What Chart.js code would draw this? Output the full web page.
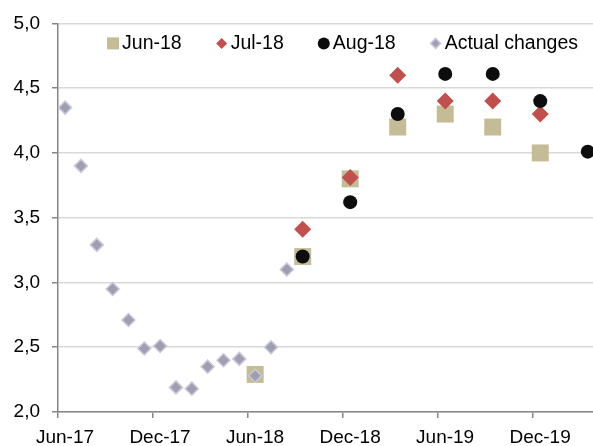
<!DOCTYPE html>
<html>
<head>
<meta charset="utf-8">
<script src="https://cdn.jsdelivr.net/npm/chart.js@4"></script>
<style>
  html, body { margin: 0; padding: 0; background: #fff; }
  #wrap { width: 593px; height: 446px; }
</style>
</head>
<body>
<div id="wrap"><canvas id="chart"></canvas></div>
<script>
// axis tick labels, every six months from Jun-17
const tickLabels = ['Jun-17', 'Dec-17', 'Jun-18', 'Dec-18', 'Jun-19', 'Dec-19'];

// actual monthly changes
const actualMonths = ['Jun-17', 'Jul-17', 'Aug-17', 'Sep-17', 'Oct-17', 'Nov-17', 'Dec-17', 'Jan-18',
  'Feb-18', 'Mar-18', 'Apr-18', 'May-18', 'Jun-18', 'Jul-18', 'Aug-18'];
const actualValues = [4.35, 3.90, 3.29, 2.95, 2.71, 2.49, 2.51, 2.19, 2.18, 2.35, 2.40, 2.41, 2.28, 2.50, 3.10];

// forecast vintages
const jun18Months = ['Jun-18', 'Sep-18', 'Dec-18', 'Mar-19', 'Jun-19', 'Sep-19', 'Dec-19'];
const jun18Values = [2.29, 3.20, 3.80, 4.20, 4.30, 4.20, 4.00];

const jul18Months = ['Sep-18', 'Dec-18', 'Mar-19', 'Jun-19', 'Sep-19', 'Dec-19'];
const jul18Values = [3.41, 3.81, 4.60, 4.40, 4.40, 4.30];

const aug18Months = ['Sep-18', 'Dec-18', 'Mar-19', 'Jun-19', 'Sep-19', 'Dec-19', 'Mar-20'];
const aug18Values = [3.20, 3.62, 4.30, 4.61, 4.61, 4.40, 4.01];

const MONTHS = ['Jan', 'Feb', 'Mar', 'Apr', 'May', 'Jun', 'Jul', 'Aug', 'Sep', 'Oct', 'Nov', 'Dec'];

// months since Jun-17, points sit mid-month
function monthPos(label) {
  const [m, y] = label.split('-');
  return (2000 + Number(y) - 2017) * 12 + MONTHS.indexOf(m) - 5 + 0.45;
}

function toPoints(months, values) {
  return months.map((m, i) => ({ x: monthPos(m), y: values[i] }));
}

const font = { family: '"Liberation Sans", Arial, sans-serif', size: 19 };
const axisGrey = '#868686';

// excel-style legend sitting inside the plot, one row, right side
const insideLegend = {
  id: 'insideLegend',
  afterDatasetsDraw(chart) {
    const { ctx, chartArea } = chart;
    const gap = 34;
    ctx.save();
    ctx.font = `19.5px ${font.family}`;
    ctx.textBaseline = 'middle';
    const items = chart.data.datasets.map(ds => ({ ds, w: 15 + ctx.measureText(ds.label).width }));
    const total = items.reduce((s, it) => s + it.w, 0) + gap * (items.length - 1);
    let x = chartArea.right - 15 - total;
    const y = chartArea.top + 20;
    items.forEach(({ ds, w }) => {
      ctx.fillStyle = ds.backgroundColor;
      ctx.strokeStyle = ds.borderColor || ds.backgroundColor;
      ctx.lineWidth = ds.borderWidth;
      Chart.helpers.drawPoint(ctx, {
        pointStyle: ds.pointStyle,
        radius: ds.legendRadius,
        borderWidth: ds.borderWidth,
      }, x + 6, y);
      ctx.fillStyle = '#000';
      ctx.fillText(ds.label, x + 15, y);
      x += w + gap;
    });
    ctx.restore();
  },
};

new Chart(document.getElementById('chart'), {
  type: 'scatter',
  data: {
    datasets: [
      {
        label: 'Jun-18',
        data: toPoints(jun18Months, jun18Values),
        pointStyle: 'rect',
        pointRadius: 12,
        legendRadius: 8.5,
        backgroundColor: '#c4bc96',
        borderColor: '#c4bc96',
        borderWidth: 0,
        order: 4,
      },
      {
        label: 'Jul-18',
        data: toPoints(jul18Months, jul18Values),
        pointStyle: 'rectRot',
        pointRadius: 8.5,
        legendRadius: 5.5,
        backgroundColor: '#c0504d',
        borderColor: '#c0504d',
        borderWidth: 0,
        order: 3,
      },
      {
        label: 'Aug-18',
        data: toPoints(aug18Months, aug18Values),
        pointStyle: 'circle',
        pointRadius: 7,
        legendRadius: 6,
        backgroundColor: '#0d0d0d',
        borderColor: '#0d0d0d',
        borderWidth: 0,
        order: 2,
      },
      {
        label: 'Actual changes',
        data: toPoints(actualMonths, actualValues),
        pointStyle: 'rectRot',
        pointRadius: 6.5,
        legendRadius: 5,
        backgroundColor: '#a09fae',
        borderColor: '#cbc7de',
        borderWidth: 1.5,
        order: 1,
      },
    ],
  },
  options: {
    responsive: true,
    maintainAspectRatio: false,
    animation: false,
    events: [],
    clip: false,
    layout: { autoPadding: false, padding: { top: 19, right: 0, bottom: 0, left: 0 } },
    plugins: {
      tooltip: { enabled: false },
      legend: { display: false },
    },
    scales: {
      x: {
        type: 'linear',
        min: 0,
        max: 33.78,
        afterBuildTicks: s => { s.ticks = tickLabels.map((_, i) => ({ value: i * 6 })); },
        afterFit: s => { s.height = 34; s.paddingLeft = 0; s.paddingRight = 0; },
        border: { color: axisGrey, width: 1.5 },
        grid: { drawOnChartArea: false, tickColor: axisGrey, tickLength: 6, lineWidth: 1.5 },
        ticks: {
          autoSkip: false,
          maxRotation: 0,
          padding: 8,
          labelOffset: 7,
          color: '#000',
          font,
          callback: (v, i) => tickLabels[i],
        },
      },
      y: {
        min: 2,
        max: 5,
        afterFit: s => { s.width = 58; },
        border: { color: axisGrey, width: 1.5 },
        grid: { color: '#d9d9d9', lineWidth: 1.5, tickColor: axisGrey, tickLength: 6 },
        ticks: {
          stepSize: 0.5,
          padding: 12,
          color: '#000',
          font,
          callback: v => v.toFixed(1).replace('.', ','),
        },
      },
    },
  },
  plugins: [insideLegend],
});
</script>
</body>
</html>
